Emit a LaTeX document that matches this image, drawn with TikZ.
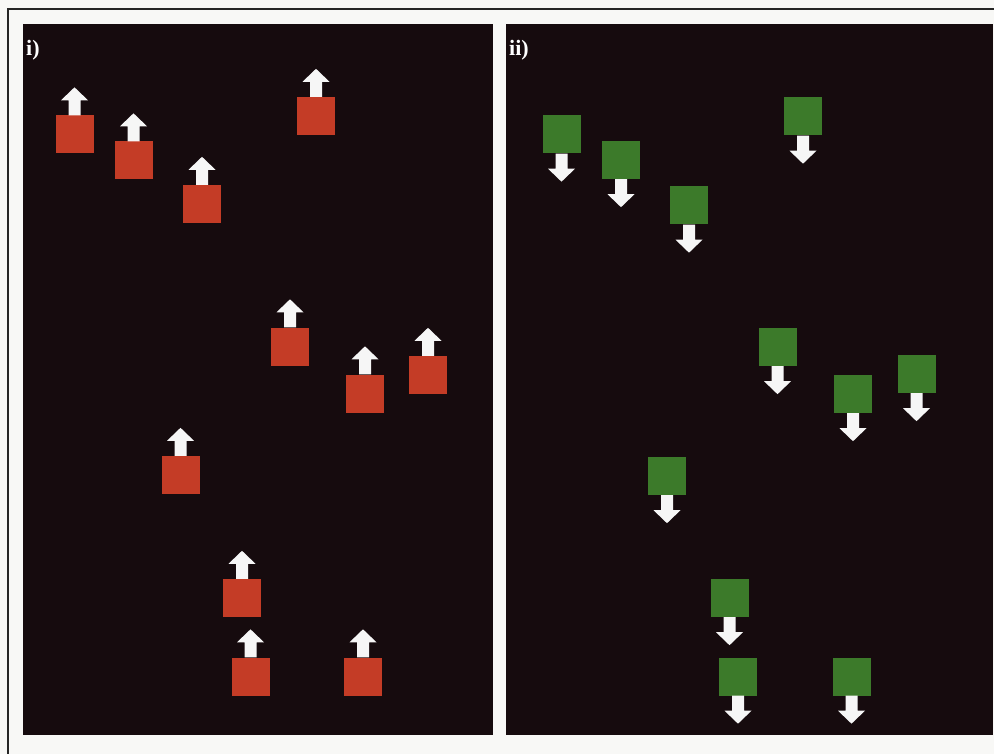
\documentclass[tikz,border=0pt]{standalone}
\usepackage{fontspec}
\setmainfont{Liberation Serif}
\usetikzlibrary{calc}
\definecolor{pagebg}{RGB}{248,248,246}
\definecolor{panelbg}{RGB}{22,11,14}
\definecolor{redsq}{RGB}{196,60,38}
\definecolor{greensq}{RGB}{60,122,42}
\definecolor{arrowfill}{RGB}{246,246,246}
\tikzset{
  panel/.style={fill=panelbg,draw=none},
  redbox/.style={rectangle,fill=redsq,inner sep=0pt,minimum width=38pt,minimum height=38pt},
  greenbox/.style={rectangle,fill=greensq,inner sep=0pt,minimum width=38pt,minimum height=38pt},
  paneltag/.style={text=white,font=\fontsize{22}{24}\selectfont\bfseries,inner sep=0pt,anchor=west},
  frameline/.style={draw=black!85,line width=1.6pt}
}
\newcommand{\uparrowon}[1]{%
  \fill[arrowfill] ($(#1.north)+(-6,0)$) -- ++(0,-15) -- ++(-7.5,0) -- ++(13.5,-13) -- ++(13.5,13) -- ++(-7.5,0) -- ++(0,15) -- cycle;}
\newcommand{\downarrowon}[1]{%
  \fill[arrowfill] ($(#1.south)+(-6,0)$) -- ++(0,15) -- ++(-7.5,0) -- ++(13.5,13) -- ++(13.5,-13) -- ++(-7.5,0) -- ++(0,-15) -- cycle;}
\begin{document}
\begin{tikzpicture}[x=1pt,y=-1pt]
\useasboundingbox (0,0) rectangle (994,754);
\fill[pagebg] (0,0) rectangle (994,754);
\draw[frameline] (8,754) -- (8,9) -- (994,9);
\fill[panel] (23,24) rectangle (493,735);
\fill[panel] (506,24) rectangle (993,735);
\node[paneltag] (ti) at (26,50) {i)};
\node[paneltag] (tii) at (509,50) {ii)};
% red squares
\node[redbox] (r1) at (74.5,134.5) {};
\node[redbox] (r2) at (133.5,160.5) {};
\node[redbox] (r3) at (202,204) {};
\node[redbox] (r4) at (316,116) {};
\node[redbox] (r5) at (290,346.5) {};
\node[redbox] (r6) at (365,393.5) {};
\node[redbox] (r7) at (428,375) {};
\node[redbox] (r8) at (180.5,475) {};
\node[redbox] (r9) at (242,598) {};
\node[redbox] (r10) at (250.5,676.5) {};
\node[redbox] (r11) at (363,676.5) {};
\foreach \n in {r1,r2,r3,r4,r5,r6,r7,r8,r9,r10,r11} {\uparrowon{\n}}
% green squares
\node[greenbox] (g1) at (561.5,134.5) {};
\node[greenbox] (g2) at (621,160) {};
\node[greenbox] (g3) at (689,205.5) {};
\node[greenbox] (g4) at (803,116.5) {};
\node[greenbox] (g5) at (777.5,347) {};
\node[greenbox] (g6) at (853,394) {};
\node[greenbox] (g7) at (916.5,374) {};
\node[greenbox] (g8) at (667,476) {};
\node[greenbox] (g9) at (729.5,598) {};
\node[greenbox] (g10) at (738,676.5) {};
\node[greenbox] (g11) at (851.5,676.5) {};
\foreach \n in {g1,g2,g3,g4,g5,g6,g7,g8,g9,g10,g11} {\downarrowon{\n}}
\end{tikzpicture}
\end{document}
